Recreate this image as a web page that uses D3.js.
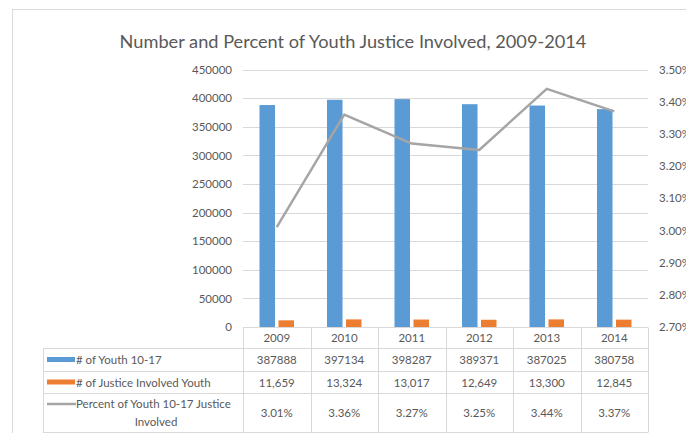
<!DOCTYPE html>
<meta charset="utf-8">
<html>
<body style="margin:0;background:#fff">
<div id="chart"></div>
<script src="https://d3js.org/d3.v7.min.js"></script>
<script>
// data
var years = ["2009", "2010", "2011", "2012", "2013", "2014"];
var youth = [387888, 397134, 398287, 389371, 387025, 380758];
var justice = [11659, 13324, 13017, 12649, 13300, 12845];
var pct = [3.01, 3.36, 3.27, 3.25, 3.44, 3.37];
var leftTicks = [0, 50000, 100000, 150000, 200000, 250000, 300000, 350000, 400000, 450000];
var rightTicks = [2.7, 2.8, 2.9, 3.0, 3.1, 3.2, 3.3, 3.4, 3.5];
var seriesNames = ["# of Youth 10-17", "# of Justice Involved Youth", "Percent of Youth 10-17 Justice Involved"];
var colors = ["#5B9BD5", "#ED7D31", "#A5A5A5"];

var W = 686, H = 433;
var font = "Lato, 'Open Sans', sans-serif";
var textCol = "#595959", gridCol = "#D9D9D9";

var svg = d3.select("#chart").append("svg")
    .attr("width", W).attr("height", H)
    .style("font-family", font);

// chart frame
svg.append("rect")
    .attr("x", 12.5).attr("y", 9.5)
    .attr("width", 800).attr("height", 600)
    .attr("fill", "none").attr("stroke", gridCol);

svg.append("text")
    .attr("x", 353).attr("y", 48)
    .attr("text-anchor", "middle")
    .attr("font-size", 18.2)
    .attr("fill", textCol)
    .text("Number and Percent of Youth Justice Involved, 2009-2014");

var x = d3.scaleBand().domain(years).range([243, 648]);
var y = d3.scaleLinear().domain([0, 450000]).range([327, 69.5]);
var y2 = d3.scaleLinear().domain([2.7, 3.5]).range([327, 69.5]);

// gridlines
svg.append("g").selectAll("line").data(leftTicks.slice(1)).join("line")
    .attr("x1", 243).attr("x2", 648)
    .attr("y1", d => Math.round(y(d)) + 0.5).attr("y2", d => Math.round(y(d)) + 0.5)
    .attr("stroke", gridCol);

// left axis
var la = svg.append("g").attr("transform", "translate(232,0)")
    .call(d3.axisLeft(y).tickValues(leftTicks).tickSize(0).tickPadding(0).tickFormat(d3.format("d")));
la.select(".domain").remove();
la.selectAll("text").attr("fill", textCol).attr("font-size", 11.5).attr("font-family", font);

// right axis (clipped by the window edge, as in the original)
var ra = svg.append("g").attr("transform", "translate(659,0)")
    .call(d3.axisRight(y2).tickValues(rightTicks).tickSize(0).tickPadding(0).tickFormat(d => d.toFixed(2) + "%"));
ra.select(".domain").remove();
ra.selectAll("text").attr("fill", textCol).attr("font-size", 11.5).attr("font-family", font);

// bars
var bw = 15.5, gap = 3.5;
svg.append("g").selectAll("rect").data(years).join("rect")
    .attr("x", (d) => x(d) + x.bandwidth() / 2 - gap / 2 - bw)
    .attr("width", bw)
    .attr("y", (d, i) => y(youth[i]))
    .attr("height", (d, i) => y(0) - y(youth[i]))
    .attr("fill", colors[0]);
svg.append("g").selectAll("rect").data(years).join("rect")
    .attr("x", (d) => x(d) + x.bandwidth() / 2 + gap / 2)
    .attr("width", bw)
    .attr("y", (d, i) => y(justice[i]))
    .attr("height", (d, i) => y(0) - y(justice[i]))
    .attr("fill", colors[1]);

// line
svg.append("path")
    .datum(years)
    .attr("d", d3.line().x(d => x(d) + x.bandwidth() / 2).y((d, i) => y2(pct[i])))
    .attr("fill", "none").attr("stroke", colors[2]).attr("stroke-width", 2.5)
    .attr("stroke-linejoin", "round");

// data table
var rows = [327.5, 348.5, 371.5, 393.5, 432.5];
var tbl = svg.append("g").attr("stroke", gridCol).attr("fill", "none");
tbl.append("line").attr("x1", 243).attr("x2", 648).attr("y1", rows[0]).attr("y2", rows[0]);
rows.slice(1).forEach(r => tbl.append("line").attr("x1", 43).attr("x2", 648).attr("y1", r).attr("y2", r));
tbl.append("line").attr("x1", 43.5).attr("x2", 43.5).attr("y1", rows[1]).attr("y2", rows[4]);
var edges = years.map(d => x(d)).concat([648]);
edges.forEach(e => tbl.append("line")
    .attr("x1", Math.round(e) + 0.5).attr("x2", Math.round(e) + 0.5)
    .attr("y1", rows[0]).attr("y2", rows[4]));

var cells = [years, youth.map(String), justice.map(d3.format(",")), pct.map(d => d.toFixed(2) + "%")];
cells.forEach(function (vals, r) {
    var cy = (rows[r] + rows[r + 1]) / 2 + 4;
    svg.append("g").selectAll("text").data(vals).join("text")
        .attr("x", (d, i) => x(years[i]) + x.bandwidth() / 2)
        .attr("y", cy)
        .attr("text-anchor", "middle")
        .attr("font-size", 11.5)
        .attr("fill", textCol)
        .text(d => d);
});

// legend keys in table
[0, 1].forEach(function (k) {
    var cy = (rows[k + 1] + rows[k + 2]) / 2;
    svg.append("rect").attr("x", 47).attr("y", cy - 3).attr("width", 28).attr("height", 5).attr("fill", colors[k]);
    svg.append("text").attr("x", 76).attr("y", cy + 4)
        .attr("font-size", 11.5).attr("fill", textCol).text(seriesNames[k]);
});
svg.append("line").attr("x1", 47).attr("x2", 76).attr("y1", 404).attr("y2", 404)
    .attr("stroke", colors[2]).attr("stroke-width", 2.5);
var lt = svg.append("text").attr("font-size", 11.5).attr("fill", textCol);
lt.append("tspan").attr("x", 76).attr("y", 408).text("Percent of Youth 10-17 Justice");
lt.append("tspan").attr("x", 156).attr("y", 426).attr("text-anchor", "middle").text("Involved");
</script>
</body>
</html>
